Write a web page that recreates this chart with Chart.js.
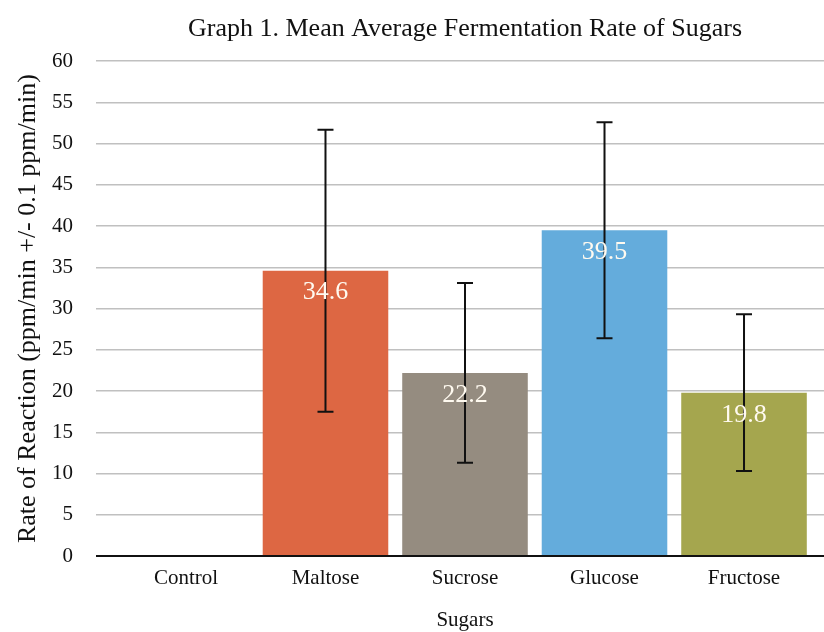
<!DOCTYPE html>
<html>
<head>
<meta charset="utf-8">
<script src="https://cdn.jsdelivr.net/npm/chart.js@4/dist/chart.umd.min.js"></script>
<style>
  html, body { margin: 0; padding: 0; background: #fff; overflow: hidden; }
  #wrap { width: 834px; height: 632px; }
</style>
</head>
<body>
<div id="wrap"><canvas id="c" width="834" height="632"></canvas></div>
<script>
const categories = ['Control', 'Maltose', 'Sucrose', 'Glucose', 'Fructose'];
const means = [0, 34.6, 22.2, 39.5, 19.8];
const errors = [0, 17.1, 10.9, 13.1, 9.5];
const barColors = ['#DD6743', '#DD6743', '#958C80', '#64ACDC', '#A5A64E'];
const yTicks = [0, 5, 10, 15, 20, 25, 30, 35, 40, 45, 50, 55, 60];
const valueLabels = ['', '34.6', '22.2', '39.5', '19.8'];

const SERIF = "'Liberation Serif', 'Times New Roman', serif";

const overlayPlugin = {
  id: 'overlay',
  afterDatasetsDraw(chart) {
    const ctx = chart.ctx;
    const xs = chart.scales.x, ys = chart.scales.y;
    ctx.save();
    // error bars
    ctx.strokeStyle = '#111';
    ctx.lineWidth = 2;
    means.forEach((m, i) => {
      if (!errors[i]) return;
      const x = xs.getPixelForValue(i);
      const yTop = ys.getPixelForValue(m + errors[i]);
      const yBot = ys.getPixelForValue(m - errors[i]);
      ctx.beginPath();
      ctx.moveTo(x, yTop); ctx.lineTo(x, yBot);
      ctx.moveTo(x - 8, yTop); ctx.lineTo(x + 8, yTop);
      ctx.moveTo(x - 8, yBot); ctx.lineTo(x + 8, yBot);
      ctx.stroke();
    });
    // value labels
    ctx.fillStyle = '#fffaf0';
    ctx.font = '26px ' + SERIF;
    ctx.textAlign = 'center';
    ctx.textBaseline = 'middle';
    means.forEach((m, i) => {
      if (!valueLabels[i]) return;
      const x = xs.getPixelForValue(i);
      const y = ys.getPixelForValue(m) + 22;
      ctx.fillText(valueLabels[i], x, y);
    });
    ctx.restore();
  }
};

new Chart(document.getElementById('c'), {
  type: 'bar',
  data: {
    datasets: [{
      data: means.map((v, i) => ({ x: i, y: v })),
      backgroundColor: barColors,
      borderWidth: 0,
      barPercentage: 0.9,
      categoryPercentage: 1.0
    }]
  },
  options: {
    responsive: false,
    animation: false,
    layout: { padding: 0 },
    plugins: {
      legend: { display: false },
      tooltip: { enabled: false },
      title: {
        display: true,
        text: 'Graph 1. Mean Average Fermentation Rate of Sugars',
        fullSize: false,
        color: '#111',
        font: { family: SERIF, size: 26, weight: 'normal', lineHeight: 1.2 },
        padding: { top: 14, bottom: 16 }
      }
    },
    scales: {
      x: {
        type: 'linear',
        min: -0.645,
        max: 4.645,
        offset: false,
        afterBuildTicks: (s) => { s.ticks = categories.map((c, i) => ({ value: i })); },
        afterFit: (s) => { s.height = 76; },
        grid: { display: false, drawTicks: false },
        border: { display: false },
        ticks: {
          autoSkip: false,
          maxRotation: 0,
          padding: 10,
          color: '#111',
          font: { family: SERIF, size: 21 },
          callback: (v) => categories[v] !== undefined ? categories[v] : ''
        },
        title: {
          display: true,
          text: 'Sugars',
          color: '#111',
          font: { family: SERIF, size: 21, lineHeight: 1.1 },
          padding: { top: 0, bottom: 0 }
        }
      },
      y: {
        min: 0,
        max: 60,
        afterBuildTicks: (s) => { s.ticks = yTicks.map(v => ({ value: v })); },
        afterFit: (s) => { s.width = 96; },
        grid: {
          drawTicks: false,
          color: (c) => c.tick && c.tick.value === 0 ? '#111' : '#c0c0c0',
          lineWidth: (c) => c.tick && c.tick.value === 0 ? 2 : 1.5
        },
        border: { display: false },
        ticks: {
          padding: 23,
          color: '#111',
          font: { family: SERIF, size: 21 }
        },
        title: {
          display: true,
          text: 'Rate of Reaction (ppm/min +/- 0.1 ppm/min)',
          color: '#111',
          font: { family: SERIF, size: 26, lineHeight: 1.2 },
          padding: { top: 13, bottom: 0 }
        }
      }
    }
  },
  plugins: [overlayPlugin]
});
</script>
</body>
</html>
